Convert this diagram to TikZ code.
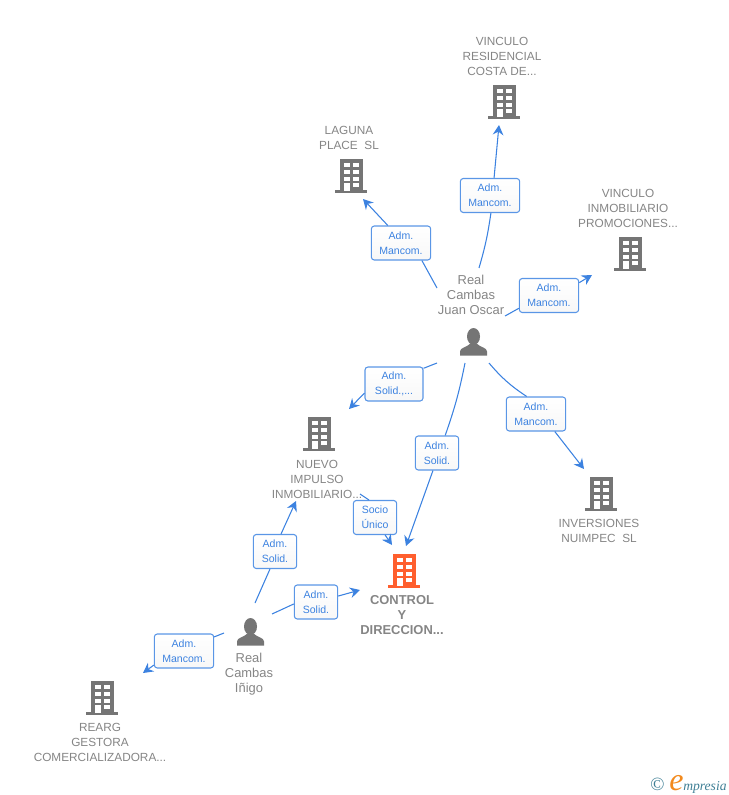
\documentclass[tikz,border=0pt]{standalone}
\usepackage{fontspec}
\setmainfont{Liberation Sans}
\newfontfamily\logofont{Liberation Serif}
\usetikzlibrary{arrows.meta,calc}
\definecolor{linkblue}{HTML}{3C82E0}
\definecolor{boxblue}{HTML}{5A96E6}
\definecolor{icongray}{HTML}{757575}
\definecolor{textgray}{HTML}{858585}
\definecolor{iconorange}{HTML}{FF5F2E}
\definecolor{logoteal}{HTML}{3F7F95}
\definecolor{logoorange}{HTML}{F28A1E}
\tikzset{
    link/.style={draw=linkblue,line width=0.8pt},
    arrowlink/.style={link,-{Stealth[length=7.5pt,width=8pt,inset=2.5pt]}},
    rolebox/.style={rectangle,rounded corners=2.2pt,draw=boxblue,line width=0.8pt,top color=white,bottom color=black!3,
        text=linkblue,font=\fontsize{7.9}{11.25}\selectfont,align=center,inner sep=0pt,minimum height=25.5pt},
    widebox/.style={rolebox,minimum width=44.5pt},
    narrowbox/.style={rolebox,minimum width=32.5pt},
    nametext/.style={text=textgray,font=\fontsize{8.85}{11.25}\selectfont,align=center,inner sep=0pt},
    persontext/.style={nametext,font=\fontsize{9.7}{11.25}\selectfont},
    pics/building/.style={code={
        \fill[#1] (-11.5,0) rectangle (11.5,32);
        \fill[#1] (-16,31) rectangle (16,34);
        \foreach \wy in {4,11,18,24} {
            \fill[white] (-7,\wy) rectangle (-1.5,\wy+4.3);
            \fill[white] (2,\wy) rectangle (7.7,\wy+4.3);
        }
        \fill[white] (-7,24) rectangle (-1.5,32);
    }},
    pics/person/.style={code={
        \fill[icongray] (0,0) ellipse [x radius=6.5,y radius=8.5];
        \fill[icongray] (-13.5,19) -- (-13.5,15) .. controls (-13.5,11) and (-7,11) .. (-3,7) -- (3,7) .. controls (7,11) and (13.5,11) .. (13.5,15) -- (13.5,19) -- cycle;
    }},
}
\begin{document}
\begin{tikzpicture}[x=0.75pt,y=-0.75pt]
    \useasboundingbox (0,0) rectangle (728,795);
    \pic at (351,159) {building=icongray};
    \pic at (504,85) {building=icongray};
    \pic at (630,237) {building=icongray};
    \pic at (319,417) {building=icongray};
    \pic at (601,477) {building=icongray};
    \pic at (404,554) {building=iconorange};
    \pic at (102,681) {building=icongray};
    \pic at (473.5,336.5) {person};
    \pic at (250.5,626.5) {person};
    \node[nametext] (vinculores) at (502,56) {VINCULO\\RESIDENCIAL\\COSTA DE...};
    \node[nametext] (laguna) at (349,137.5) {LAGUNA\\PLACE\ \ SL};
    \node[nametext] (vinculoinm) at (628,208) {VINCULO\\INMOBILIARIO\\PROMOCIONES...};
    \node[persontext] (juan) at (471,295) {Real\\Cambas\\Juan Oscar};
    \node[nametext] (nuevo) at (317,479) {NUEVO\\IMPULSO\\INMOBILIARIO...};
    \node[nametext] (inversiones) at (599,530.5) {INVERSIONES\\NUIMPEC\ \ SL};
    \node[nametext,font=\fontsize{9.7}{11.25}\selectfont\bfseries] (control) at (402,615) {CONTROL\\Y\\DIRECCION...};
    \node[persontext] (inigo) at (249,674) {Real\\Cambas\\Iñigo};
    \node[nametext] (rearg) at (100,742) {REARG\\GESTORA\\COMERCIALIZADORA...};
    \node[widebox] (boxlaguna) at (401,243) {Adm.\\Mancom.};
    \node[widebox] (boxres) at (490,195.5) {Adm.\\Mancom.};
    \node[widebox] (boxinm) at (549,295.5) {Adm.\\Mancom.};
    \node[widebox,minimum width=43.5pt] (boxnuevo) at (394,384) {Adm.\\Solid.,...};
    \node[narrowbox] (boxcontrol) at (437,453) {Adm.\\Solid.};
    \node[widebox] (boxinv) at (536,414) {Adm.\\Mancom.};
    \node[narrowbox] (boxsocio) at (375,517.5) {Socio\\Único};
    \node[narrowbox] (boxinigonuevo) at (275,551.5) {Adm.\\Solid.};
    \node[narrowbox] (boxinigocontrol) at (316,602) {Adm.\\Solid.};
    \node[widebox] (boxrearg) at (184,651) {Adm.\\Mancom.};
    \coordinate (juanlaguna) at (437,288);
    \coordinate (juanres) at (479,268);
    \coordinate (juaninm) at (505,316);
    \coordinate (juannuevo) at (437,363);
    \coordinate (juancontrol) at (465,363);
    \coordinate (juaninv) at (489,363);
    \coordinate (nuevosocio) at (360,494);
    \coordinate (inigonuevo) at (255,603);
    \coordinate (inigocontrol) at (272,614);
    \coordinate (inigorearg) at (224,633);
    \coordinate (tiplaguna) at (363,199);
    \coordinate (tipres) at (499,125);
    \coordinate (tipinm) at (592,275);
    \coordinate (tipnuevo) at (349,409);
    \coordinate (tipcontrol) at (406,546);
    \coordinate (tipinv) at (584,469);
    \coordinate (tipsocio) at (392,545);
    \coordinate (tipinigonuevo) at (296,501);
    \coordinate (tipinigocontrol) at (360,590);
    \coordinate (tiprearg) at (143,673);
    \draw[link] (juanlaguna) -- (boxlaguna.-40);
    \draw[arrowlink] (boxlaguna.127) -- (tiplaguna);
    \draw[link] (juanres) to[bend right=4] (boxres.-87);
    \draw[arrowlink] (boxres.77) -- (tipres);
    \draw[link] (juaninm) -- (boxinm.203);
    \draw[arrowlink] (boxinm.23) -- (tipinm);
    \draw[link] (juannuevo) -- (boxnuevo.28);
    \draw[arrowlink] (boxnuevo.197) -- (tipnuevo);
    \draw[link] (juancontrol) to[bend left=4] (boxcontrol.65);
    \draw[arrowlink] (boxcontrol.-103) -- (tipcontrol);
    \draw[link] (juaninv) to[bend right=8] (boxinv.118);
    \draw[arrowlink] (boxinv.-43) -- (tipinv);
    \draw[link] (nuevosocio) -- (boxsocio.109);
    \draw[arrowlink] (boxsocio.-60) -- (tipsocio);
    \draw[link] (inigonuevo) -- (boxinigonuevo.-106);
    \draw[arrowlink] (boxinigonuevo.71) -- (tipinigonuevo);
    \draw[link] (inigocontrol) -- (boxinigocontrol.185);
    \draw[arrowlink] (boxinigocontrol.15) -- (tipinigocontrol);
    \draw[link] (inigorearg) -- (boxrearg.25);
    \draw[arrowlink] (boxrearg.205) -- (tiprearg);
    \node[anchor=base west,inner sep=0pt,text=logoteal,font=\logofont\fontsize{14}{14}\selectfont] (logomark) at (650,790) {©};
    \node[anchor=base west,inner sep=0pt,text=logoorange,font=\logofont\itshape\fontsize{24}{24}\selectfont] (logoe) at (669,790) {e};
    \node[anchor=base west,inner sep=0pt,text=logoteal,font=\logofont\itshape\fontsize{10.2}{11}\selectfont] (logotext) at (683,790) {mpresia};
\end{tikzpicture}
\end{document}
